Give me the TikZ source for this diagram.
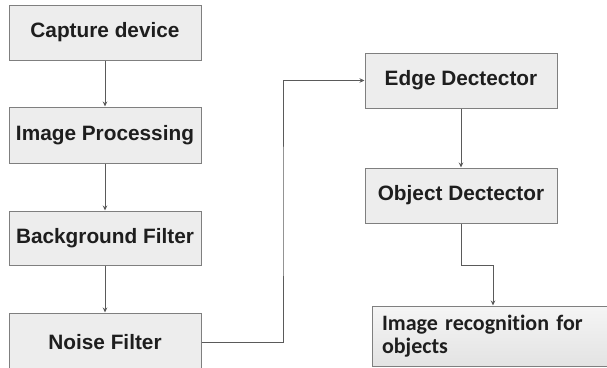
\documentclass[tikz,border=0pt]{standalone}
\usepackage{fontspec}
\setmainfont{Liberation Sans}
\newfontfamily\carl[Ligatures=NoCommon]{Carlito}
\usetikzlibrary{arrows.meta,calc}
\definecolor{boxfill}{HTML}{EDEDED}
\definecolor{boxline}{HTML}{7F7F7F}
\definecolor{arrline}{HTML}{5A5A5A}
\definecolor{txt}{HTML}{1E1E1E}
\begin{document}
\begin{tikzpicture}[x=1pt,y=-1pt,
  stepbox/.style={draw=boxline,line width=1pt,fill=boxfill,minimum width=192pt,minimum height=55pt,
    inner sep=0pt,font=\fontsize{20.8}{23}\selectfont\bfseries,text=txt},
  arr/.style={draw=arrline,line width=1pt,-{Stealth[length=5pt,width=4.5pt]}}]
\useasboundingbox (0,0) rectangle (607,367);
\node[stepbox] (cap) at (105,32.5) {Capture device};
\node[stepbox,minimum height=56pt] (img) at (105,135) {Image Processing};
\node[stepbox,minimum height=54pt] (bg) at (105,238) {Background Filter};
\node[stepbox,minimum height=58pt] (noise) at (105,342) {Noise Filter};
\node[stepbox] (edge) at (461,80.5) {Edge Dectector};
\node[stepbox] (obj) at (461,195.5) {Object Dectector};
\node[stepbox,minimum width=242pt,minimum height=60pt,text width=222pt,align=left,
  inner xsep=10pt,top color=white!92!gray,bottom color=gray!22,
  font=\carl\fontsize{22}{23.5}\selectfont\bfseries] (rec) at (493,336) {Image recognition for\\objects};
\draw[arr] (cap) -- (img);
\draw[arr] (img) -- (bg);
\draw[arr] (bg) -- (noise);
\coordinate (mid) at ($(noise.east)!0.5!(edge.west)$);
\draw[arr] (noise.east) -| (mid) |- (edge.west);
\draw[arr] (edge) -- (obj);
\coordinate (bend) at ($(obj.south)+(0,42)$);
\draw[arr] (obj.south) -- (bend) -| (rec.north);
\end{tikzpicture}
\end{document}
